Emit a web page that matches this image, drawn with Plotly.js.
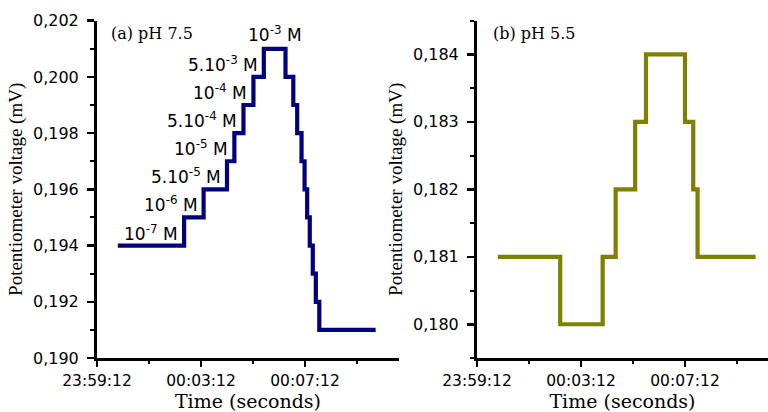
<!DOCTYPE html>
<html>
<head>
<meta charset="utf-8">
<script src="https://cdn.plot.ly/plotly-3.0.1.min.js"></script>
<style>
  html, body { margin: 0; padding: 0; background: #ffffff; overflow: hidden; }
  #chart { width: 768px; height: 412px; }
</style>
</head>
<body>
<div id="chart"></div>
<script>
// ---- data ----
const xTickStart = '23:59:12';
const leftTimes = ['00:00:00','00:02:33','00:03:18','00:04:12','00:04:29','00:04:50','00:05:13','00:05:37','00:06:27','00:06:45','00:06:54','00:07:04','00:07:11','00:07:17','00:07:23','00:07:30','00:07:37','00:07:45','00:09:55'];
const leftVoltage = [0.194,0.195,0.196,0.197,0.198,0.199,0.200,0.201,0.200,0.199,0.198,0.197,0.196,0.195,0.194,0.193,0.192,0.191,0.191];
const rightTimes = ['00:00:00','00:02:24','00:04:02','00:04:32','00:05:17','00:05:42','00:07:12','00:07:31','00:07:41','00:09:55'];
const rightVoltage = [0.181,0.180,0.181,0.182,0.183,0.184,0.183,0.182,0.181,0.181];
const concLabels = ['10<sup>-7</sup> M','10<sup>-6</sup> M','5.10<sup>-5</sup> M','10<sup>-5</sup> M','5.10<sup>-4</sup> M','10<sup>-4</sup> M','5.10<sup>-3</sup> M','10<sup>-3</sup> M'];
const panelLabels = ['(a) pH 7.5','(b) pH 5.5'];
const xTitle = 'Time (seconds)';
const yTitle = 'Potentiometer voltage (mV)';

// ---- helpers ----
function toDate(t) {
  const day = t.startsWith('23') ? '2024-01-01' : '2024-01-02';
  return day + ' ' + t;
}
function ms(t) { return new Date(toDate(t).replace(' ', 'T') + 'Z').getTime(); }
function fromMs(v) {
  const d = new Date(v);
  const p = n => String(n).padStart(2, '0');
  return d.getUTCFullYear() + '-' + p(d.getUTCMonth() + 1) + '-' + p(d.getUTCDate()) + ' ' +
    p(d.getUTCHours()) + ':' + p(d.getUTCMinutes()) + ':' + p(d.getUTCSeconds()) + '.' + String(d.getUTCMilliseconds()).padStart(3, '0');
}

const navy = '#00007f';
const olive = '#7f7f00';

const traces = [
  { x: leftTimes.map(toDate), y: leftVoltage, xaxis: 'x', yaxis: 'y', mode: 'lines',
    line: { shape: 'hv', color: navy, width: 4.2 }, hoverinfo: 'skip' },
  { x: rightTimes.map(toDate), y: rightVoltage, xaxis: 'x2', yaxis: 'y2', mode: 'lines',
    line: { shape: 'hv', color: olive, width: 4.2 }, hoverinfo: 'skip' }
];

const W = 768, H = 412;
const pxPerSec = 26 / 60;
const t0 = ms(xTickStart);
const leftEnd = fromMs(t0 + (399 - 97) / pxPerSec * 1000);
const rightEnd = fromMs(t0 + (768 - 477) / pxPerSec * 1000);
const yDomain = [(H - 358) / H, (H - 20.7) / H];

const xTickFont = { family: 'DejaVu Sans', size: 15.5, color: '#000' };
const yTickFont = { family: 'DejaVu Sans', size: 16, color: '#000' };
const xTitleFont = { family: 'DejaVu Serif', size: 19, color: '#000' };
const yTitleFont = { family: 'Liberation Serif', size: 19, color: '#000' };
const concFont = { family: 'DejaVu Sans', size: 17, color: '#000' };

function xAxis(domain, end, anchor) {
  return {
    type: 'date', domain: domain, anchor: anchor,
    range: [toDate(xTickStart), end],
    tickmode: 'linear', tick0: toDate(xTickStart), dtick: 240000,
    tickformat: '%H:%M:%S', tickfont: xTickFont,
    ticks: 'outside', ticklen: 6, tickwidth: 2.5, tickcolor: '#000',
    minor: { tick0: toDate(xTickStart), dtick: 120000, ticks: 'outside', ticklen: 3, tickwidth: 2, tickcolor: '#000', showgrid: false },
    showline: true, linewidth: 3, linecolor: '#000',
    showgrid: false, zeroline: false, fixedrange: true,
    title: { text: xTitle, font: xTitleFont, standoff: 3 }
  };
}
function yAxis(range, tick0, dtick, minorDtick, anchor) {
  return {
    domain: yDomain, anchor: anchor, range: range,
    tickmode: 'linear', tick0: tick0, dtick: dtick, tickformat: '.3f',
    tickfont: yTickFont,
    ticks: 'outside', ticklen: 7, tickwidth: 2.5, tickcolor: '#000',
    ticklabelstandoff: 5,
    minor: { tick0: tick0, dtick: minorDtick, ticks: 'outside', ticklen: 4, tickwidth: 2, tickcolor: '#000', showgrid: false },
    showline: true, linewidth: 3, linecolor: '#000',
    showgrid: false, zeroline: false, fixedrange: true,
    title: { text: yTitle, font: yTitleFont, standoff: 6 }
  };
}

const annotations = [];
concLabels.forEach((lab, i) => {
  if (i < concLabels.length - 1) {
    annotations.push({ xref: 'x', yref: 'y', x: toDate(leftTimes[i + 1]), y: leftVoltage[i],
      text: lab, showarrow: false, xanchor: 'right', yanchor: 'bottom', xshift: -4, yshift: 0,
      font: concFont });
  } else {
    const mid = fromMs((ms(leftTimes[i]) + ms(leftTimes[i + 1])) / 2);
    annotations.push({ xref: 'x', yref: 'y', x: mid, y: leftVoltage[i],
      text: lab, showarrow: false, xanchor: 'center', yanchor: 'bottom', yshift: 2,
      font: concFont });
  }
});
annotations.push({ xref: 'paper', yref: 'paper', x: 109 / W, y: (H - 34) / H, text: panelLabels[0],
  showarrow: false, xanchor: 'left', yanchor: 'middle', font: { family: 'DejaVu Serif', size: 16, color: '#000' } });
annotations.push({ xref: 'paper', yref: 'paper', x: 491 / W, y: (H - 34) / H, text: panelLabels[1],
  showarrow: false, xanchor: 'left', yanchor: 'middle', font: { family: 'DejaVu Serif', size: 16, color: '#000' } });

const layout = {
  width: W, height: H,
  margin: { l: 0, r: 0, t: 0, b: 0 },
  paper_bgcolor: '#ffffff', plot_bgcolor: '#ffffff',
  showlegend: false,
  separators: ',.',
  font: { family: 'DejaVu Sans', color: '#000' },
  xaxis: xAxis([97 / W, 399 / W], leftEnd, 'y'),
  yaxis: yAxis([0.190, 0.202], 0.190, 0.002, 0.001, 'x'),
  xaxis2: xAxis([477 / W, 1], rightEnd, 'y2'),
  yaxis2: yAxis([0.1795, 0.1845], 0.180, 0.001, 0.0005, 'x2'),
  annotations: annotations
};

Plotly.newPlot('chart', traces, layout, { staticPlot: true, displayModeBar: false });
</script>
</body>
</html>
